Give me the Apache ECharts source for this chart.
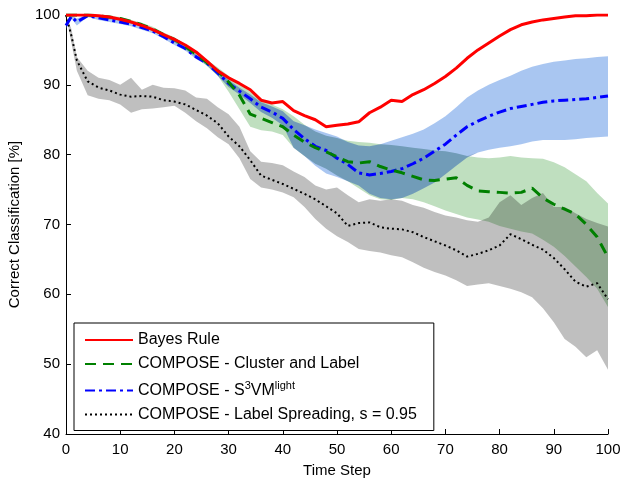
<!DOCTYPE html>
<html>
<head>
<meta charset="utf-8">
<script src="https://cdn.jsdelivr.net/npm/echarts@6/dist/echarts.min.js"></script>
<style>
  html, body { margin: 0; padding: 0; background: #fff; }
  #chart { width: 623px; height: 480px; }
</style>
</head>
<body>
<div id="chart"></div>
<script>
const steps = [0, 1, 2, 4, 6, 8, 10, 12, 14, 16, 18, 20, 22, 24, 26, 28, 30, 32, 34, 36, 38, 40, 42, 44, 46, 48, 50,
  52, 54, 56, 58, 60, 62, 64, 66, 68, 70, 72, 74, 76, 78, 80, 82, 84, 86, 88, 90, 92, 94, 96, 98, 100]

const bayes = [100, 100, 100, 100, 99.9, 99.7, 99.4, 99.0, 98.5, 97.9, 97.2, 96.5, 95.7, 94.7, 93.4, 92.0, 91.0, 90.2,
  89.3, 87.8, 87.4, 87.6, 86.3, 85.6, 85.0, 84.0, 84.2, 84.4, 84.7, 86.0, 86.8, 87.8, 87.6, 88.6, 89.3, 90.2, 91.2,
  92.4, 93.8, 95.0, 96.0, 97.0, 97.9, 98.6, 99.0, 99.3, 99.5, 99.7, 99.9, 99.9, 100, 100]

const cluster = [100, 100, 100, 100, 99.9, 99.7, 99.5, 99.1, 98.6, 98.0, 97.2, 96.5, 95.5, 94.4, 93.2, 92.0, 90.4, 88.5,
  85.8, 85.2, 84.6, 84.0, 82.8, 81.8, 81.0, 80.4, 79.7, 79.0, 78.8, 79.0, 78.3, 77.8, 77.4, 76.9, 76.4, 76.3, 76.5,
  76.7, 75.6, 74.8, 74.7, 74.6, 74.5, 74.6, 75.2, 73.8, 72.9, 72.2, 71.5, 70.0, 68.2, 65.3]
const clusterHi = [100, 100, 100, 100, 100, 99.9, 99.7, 99.3, 98.9, 98.3, 97.5, 96.8, 95.8, 94.8, 93.6, 92.5, 91.3, 90.2,
  89.0, 88.0, 87.2, 86.5, 85.5, 84.3, 83.3, 82.7, 82.4, 82.0, 81.8, 81.7, 81.5, 81.4, 81.2, 81.0, 80.8, 80.6, 80.5,
  80.2, 79.8, 79.6, 79.5, 79.6, 79.8, 79.6, 79.5, 79.4, 78.9, 78.2, 77.2, 76.2, 74.5, 73.0]
const clusterLo = [100, 100, 99.9, 99.8, 99.7, 99.4, 99.2, 98.8, 98.3, 97.7, 96.9, 96.1, 95.1, 94.0, 92.7, 91.3, 89.0, 86.5,
  84.0, 83.5, 83.3, 82.8, 81.0, 79.8, 78.7, 78.0, 77.0, 76.2, 75.2, 74.2, 73.6, 73.5, 73.8, 73.6, 73.2, 72.6, 72.0,
  71.5, 71.0, 70.7, 70.4, 69.8, 69.4, 69.0, 68.7, 67.8, 66.8, 65.5, 64.0, 62.5, 60.8, 58.2]

const s3vm = [98.5, 99.8, 99.0, 99.9, 99.6, 99.3, 99.0, 98.7, 98.2, 97.7, 96.9, 96.0, 95.2, 94.0, 93.1, 91.7, 90.2, 89.1,
  88.0, 86.8, 86.1, 85.2, 83.6, 82.3, 81.2, 80.6, 79.5, 78.6, 77.4, 77.1, 77.3, 77.6, 78.0, 78.7, 79.5, 80.5, 81.5,
  82.8, 84.0, 84.8, 85.5, 86.1, 86.6, 86.9, 87.2, 87.5, 87.7, 87.8, 87.9, 88.0, 88.2, 88.4]
const s3vmHi = [99.0, 100, 99.5, 100, 99.9, 99.6, 99.3, 99.0, 98.5, 98.0, 97.2, 96.3, 95.5, 94.3, 93.4, 92.1, 90.7, 89.6,
  88.6, 87.5, 86.9, 86.2, 84.8, 84.2, 83.6, 83.1, 82.6, 81.8, 81.3, 81.2, 81.5, 82.0, 82.5, 83.0, 83.6, 84.5, 85.5,
  86.8, 88.2, 89.2, 90.0, 90.7, 91.3, 92.0, 92.6, 93.0, 93.3, 93.5, 93.7, 93.8, 94.0, 94.1]
const s3vmLo = [98.0, 99.5, 98.5, 99.7, 99.3, 99.0, 98.7, 98.4, 97.9, 97.4, 96.6, 95.7, 94.9, 93.7, 92.8, 91.3, 89.7, 88.6,
  87.4, 86.1, 85.3, 84.2, 81.0, 79.8, 78.4, 77.3, 76.8, 76.2, 75.6, 74.4, 73.8, 73.6, 73.8, 74.4, 75.2, 76.0, 77.2,
  78.4, 79.6, 80.3, 80.7, 81.0, 81.2, 81.5, 81.9, 82.1, 82.1, 82.1, 82.2, 82.4, 82.5, 82.6]

const spread = [100, 97, 93.5, 90.5, 89.6, 89.2, 88.6, 88.3, 88.4, 88.3, 87.8, 87.6, 87.2, 86.4, 85.6, 84.5, 82.6, 81.2,
  79.2, 77.0, 76.4, 75.8, 75.1, 74.4, 73.6, 72.6, 71.6, 69.8, 70.2, 70.3, 69.6, 69.4, 69.3, 68.9, 68.2, 67.6, 67.0,
  66.3, 65.4, 65.8, 66.3, 67.0, 68.6, 67.9, 67.1, 66.4, 65.2, 63.6, 61.8, 61.1, 61.6, 59.3]
const spreadHi = [100, 98, 94, 92.0, 91.0, 90.7, 90.0, 91.0, 89.3, 90.0, 89.6, 89.5, 89.2, 88.2, 88.0, 86.8, 85.8, 84.0,
  80.5, 79.0, 78.8, 78.5, 77.6, 76.8, 75.6, 75.0, 75.3, 74.2, 73.2, 73.6, 73.4, 73.6, 73.4, 72.8, 72.4, 71.8, 71.3,
  71.0, 70.6, 70.4, 71.0, 73.2, 74.2, 72.8, 73.8, 74.5, 72.5, 72.5, 71.6, 70.8, 70.2, 69.7]
const spreadLo = [100, 96, 92, 88.5, 88.0, 87.8, 87.2, 86.0, 86.5, 86.6, 86.8, 87.0, 86.0, 84.8, 83.8, 82.5, 81.5, 79.5,
  76.5, 75.3, 75.0, 74.6, 73.9, 72.5, 70.8, 69.4, 68.3, 67.5, 66.5, 66.2, 66.0, 65.6, 65.3, 64.6, 63.8, 63.2, 62.7,
  62.0, 61.2, 61.4, 61.6, 61.2, 60.8, 60.3, 59.6, 58.0, 56.0, 53.6, 52.5, 51.0, 52.0, 49.2]

const names = [
  'Bayes Rule',
  'COMPOSE - Cluster and Label',
  'COMPOSE - S3VM light',
  'COMPOSE - Label Spreading, s = 0.95',
]

const font = '"Liberation Sans", Arial, sans-serif'

// where the green and blue bands overlap the original gets noticeably darker
const overlapLo = clusterLo.map((v, i) => Math.max(v, s3vmLo[i]))
const overlapHi = clusterHi.map((v, i) => Math.max(overlapLo[i], Math.min(v, s3vmHi[i])))

function pairs(values) {
  return steps.map((x, i) => [x, values[i]])
}

// shaded band drawn once as a polygon: upper edge forward, lower edge back
function band(id, lo, hi, color) {
  return {
    name: id,
    type: 'custom',
    silent: true,
    data: steps.map((x, i) => [x, lo[i], hi[i]]),
    encode: { x: 0, y: [1, 2] },
    renderItem: (params, api) => {
      if (params.dataIndex !== 0) return
      const top = steps.map((x, i) => api.coord([x, hi[i]]))
      const bottom = steps.map((x, i) => api.coord([x, lo[i]])).reverse()
      return {
        type: 'polygon',
        shape: { points: top.concat(bottom) },
        style: { fill: color, stroke: null },
      }
    },
  }
}

function line(name, values, color, type, width) {
  return {
    name,
    type: 'line',
    data: pairs(values),
    symbol: 'none',
    lineStyle: { color, width, type },
    itemStyle: { color },
  }
}

const chart = echarts.init(document.getElementById('chart'), null, { renderer: 'canvas' })

chart.setOption({
  animation: false,
  backgroundColor: '#fff',
  grid: { left: 66, right: 15, top: 15, bottom: 46, containLabel: false, outerBoundsMode: 'none' },
  xAxis: {
    type: 'value',
    min: 0,
    max: 100,
    interval: 10,
    name: 'Time Step',
    nameLocation: 'middle',
    nameGap: 29,
    nameTextStyle: { color: '#000', fontSize: 15, fontFamily: font },
    axisLine: { lineStyle: { color: '#000', width: 1 } },
    axisTick: { inside: true, length: 5, lineStyle: { color: '#000' } },
    axisLabel: { color: '#000', fontSize: 15, fontFamily: font, margin: 8 },
    splitLine: { show: false },
  },
  yAxis: {
    type: 'value',
    min: 40,
    max: 100,
    interval: 10,
    name: 'Correct Classification [%]',
    nameLocation: 'middle',
    nameGap: 44,
    nameTextStyle: { color: '#000', fontSize: 15, fontFamily: font },
    axisLine: { show: true, lineStyle: { color: '#000', width: 1 } },
    axisTick: { show: true, inside: true, length: 5, lineStyle: { color: '#000' } },
    axisLabel: { color: '#000', fontSize: 15, fontFamily: font, margin: 6 },
    splitLine: { show: false },
  },
  legend: {
    data: names,
    orient: 'vertical',
    left: 74,
    top: 323,
    padding: [9, 17, 8, 10],
    itemGap: 8,
    itemWidth: 48,
    itemHeight: 14,
    backgroundColor: '#fff',
    borderColor: '#000',
    borderWidth: 1,
    borderRadius: 0,
    itemStyle: { opacity: 0 },
    textStyle: {
      color: '#000',
      fontSize: 16,
      fontFamily: font,
      rich: {
        n: { fontSize: 16, fontFamily: font, color: '#000' },
        sup: { fontSize: 11, fontFamily: font, color: '#000', padding: [0, 0, 10, 0] },
      },
    },
    formatter: (name) =>
      name === 'COMPOSE - S3VM light'
        ? '{n|COMPOSE - S}{sup|3}{n|VM}{sup|light}'
        : name,
  },
  series: [
    band('cluster', clusterLo, clusterHi, 'rgba(0, 128, 0, 0.25)'),
    band('s3vm', s3vmLo, s3vmHi, 'rgba(51, 119, 221, 0.42)'),
    band('overlap', overlapLo, overlapHi, 'rgba(20, 40, 80, 0.16)'),
    band('spread', spreadLo, spreadHi, 'rgba(0, 0, 0, 0.25)'),
    line(names[3], spread, '#000', [2, 3], 2),
    line(names[2], s3vm, '#0000ff', [10, 4, 3, 4], 3),
    line(names[1], cluster, '#008000', [11, 7], 3),
    line(names[0], bayes, '#ff0000', 'solid', 3),
  ],
})
</script>
</body>
</html>
